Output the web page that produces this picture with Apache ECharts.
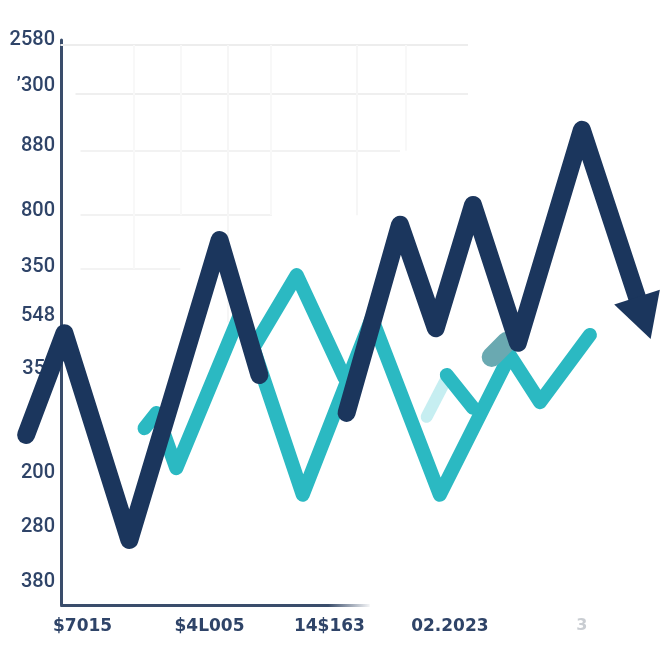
<!DOCTYPE html>
<html>
<head>
<meta charset="utf-8">
<script src="https://cdn.jsdelivr.net/npm/echarts@6/dist/echarts.min.js"></script>
<style>html,body{margin:0;padding:0;background:#fff}#c{width:665px;height:665px}</style>
</head>
<body>
<div id="c"></div>
<script>
// ---- data ----
var yTickValues = [100, 91.9, 81.2, 69.7, 59.8, 51.2, 41.8, 23.4, 13.8, 4.1];
var yTickLabels = ['2580', '\u2019300', '880', '800', '350', '548', '35', '200', '280', '380'];
var xTickValues = [4.4, 29.6, 53.4, 77.3, 103.5];
var xTickLabels = ['$7015', '$4L005', '14$163', '02.2023', '3'];

var darkA = [[-6.8, 30.1], [0.8, 48.1], [13.7, 11.5], [31.6, 64.6], [39.5, 40.7]];
var darkB = [[56.8, 34.0], [67.4, 67.3], [74.5, 49.0], [81.9, 70.8], [90.8, 46.4], [103.5, 84.1], [115.8, 50.8]];

var tealA = [[16.7, 31.3], [19.1, 34.0], [23.0, 24.2], [35.6, 51.3]];
var tealB = [[56.4, 40.2], [46.9, 58.4], [38.3, 45.5], [48.1, 19.5], [61.8, 50.8], [75.3, 19.5], [89.2, 44.2], [95.2, 35.9], [105.1, 47.8]];
var tealStub = [[76.7, 40.7], [81.9, 34.9]];
var tealFaint = [[72.7, 33.3], [76.3, 39.5]];
var tealBlob = [[85.6, 43.9], [88.6, 46.6]];

var NAVY = '#1b365d';
var TEAL = '#2bb9c2';
var AXIS = '#3a4d6b';
var LABEL = '#2f4468';

function lineSeries(name, data, color, width, z, extra) {
  var s = {
    name: name, type: 'line', data: data, z: z,
    xAxisIndex: 0, yAxisIndex: 0,
    symbol: 'none', showSymbol: false, clip: false, silent: true,
    animation: false,
    lineStyle: { color: color, width: width, cap: 'round', join: 'round' }
  };
  for (var k in extra) s[k] = extra[k];
  return s;
}

function hLine(y, x1, x2, color) {
  return [{ coord: [x1, y], lineStyle: { color: color, width: 2, type: 'solid' } }, { coord: [x2, y] }];
}
function vLine(x, y1, y2, color) {
  return [{ coord: [x, y1], lineStyle: { color: color, width: 2, type: 'solid' } }, { coord: [x, y2] }];
}

var darkBData = darkB.map(function (p, i) {
  if (i === darkB.length - 1) {
    return { value: p, symbol: 'triangle', symbolSize: [48, 44], symbolRotate: 198,
      itemStyle: { color: NAVY } };
  }
  return p;
});

var chart = echarts.init(document.getElementById('c'), null, { renderer: 'canvas' });
chart.setOption({
  backgroundColor: '#ffffff',
  animation: false,
  grid: [
    { left: 10, right: 0, top: 40, bottom: 60, containLabel: false, outerBoundsMode: 'none' },
    { left: 61, right: 0, top: 40, bottom: 60, containLabel: false, outerBoundsMode: 'none' }
  ],
  xAxis: [{
    gridIndex: 0, type: 'value', min: -10, max: 120,
    axisLine: { show: false },
    axisTick: { show: false },
    splitLine: { show: false },
    axisLabel: {
      customValues: xTickValues,
      margin: 13,
      fontFamily: 'DejaVu Sans', fontSize: 17, fontWeight: 'bold', color: LABEL,
      formatter: function (v) {
        var i = xTickValues.indexOf(v);
        if (i < 0) return '';
        if (i === xTickLabels.length - 1) return '{g|' + xTickLabels[i] + '}';
        return xTickLabels[i];
      },
      rich: { g: { color: '#c9cdd2', fontFamily: 'DejaVu Sans', fontSize: 16 } }
    }
  }, {
    gridIndex: 1, type: 'value', min: 0, max: 1, show: false
  }],
  yAxis: [{
    gridIndex: 0, type: 'value', min: 0, max: 100, show: false
  }, {
    gridIndex: 1, type: 'value', min: 0, max: 100,
    axisLine: { show: true, onZero: false, lineStyle: { color: AXIS, width: 3 } },
    axisTick: { show: false },
    splitLine: { show: false },
    axisLabel: {
      customValues: yTickValues,
      margin: 6,
      fontFamily: 'Roboto', fontSize: 20, fontWeight: 500, color: LABEL,
      formatter: function (v) {
        var i = yTickValues.indexOf(v);
        if (i < 0) return '';
        if (yTickLabels[i] === '35') return '{s|' + yTickLabels[i] + '}';
        return yTickLabels[i];
      },
      rich: { s: { fontFamily: 'Roboto', fontSize: 20, fontWeight: 500, color: LABEL, padding: [0, 10, 0, 0] } }
    }
  }],
  series: [
    lineSeries('grid', [[0, 0]], 'rgba(0,0,0,0)', 0, 1, {
      markLine: {
        silent: true, symbol: ['none', 'none'], animation: false,
        label: { show: false }, z: 1,
        data: [
          hLine(99.1, 0, 80.9, '#ededed'),
          hLine(90.4, 3, 80.9, '#efefef'),
          hLine(80.4, 4, 67.4, '#f2f2f2'),
          hLine(69.0, 4, 42, '#f2f2f2'),
          hLine(59.5, 4, 23.8, '#f3f3f3'),
          vLine(14.5, 99.1, 59.5, '#f8f8f8'),
          vLine(23.8, 99.1, 69.0, '#f8f8f8'),
          vLine(33.2, 99.1, 50, '#f6f6f6'),
          vLine(41.7, 99.1, 69.0, '#f8f8f8'),
          vLine(58.8, 99.1, 69.0, '#f6f6f6'),
          vLine(68.5, 99.1, 80.4, '#f8f8f8'),
          [{ coord: [0, 0], lineStyle: { width: 3, type: 'solid',
              color: new echarts.graphic.LinearGradient(0, 0, 1, 0, [
                { offset: 0, color: AXIS }, { offset: 0.86, color: AXIS },
                { offset: 1, color: 'rgba(58,77,107,0)' }]) } },
           { coord: [61.4, 0] }]
        ]
      }
    }),
    lineSeries('tealFaint', tealFaint, '#c6eef1', 12, 2),
    lineSeries('tealA', tealA, TEAL, 14, 2),
    lineSeries('tealB', tealB, TEAL, 14, 2),
    lineSeries('tealStub', tealStub, TEAL, 14, 2),
    lineSeries('tealBlob', tealBlob, '#6aa9b1', 20, 2),
    lineSeries('darkA', darkA, NAVY, 18, 3),
    lineSeries('darkB', darkBData, NAVY, 18, 3, { showSymbol: true, symbol: 'none' })
  ]
});
</script>
</body>
</html>
